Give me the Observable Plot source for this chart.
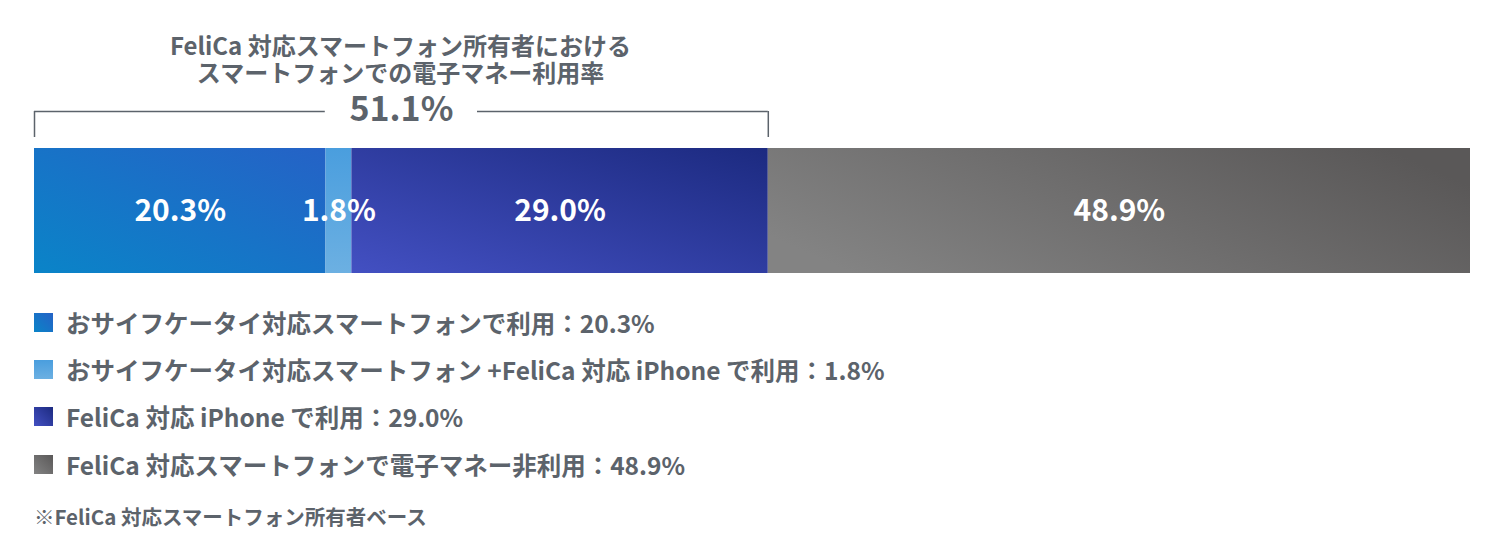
<!DOCTYPE html>
<html>
<head>
<meta charset="utf-8">
<script src="https://cdn.jsdelivr.net/npm/d3@7"></script>
<script src="https://cdn.jsdelivr.net/npm/@observablehq/plot@0.6"></script>
<style>
  html, body { margin: 0; padding: 0; background: #fff; }
  body { font-family: "Noto Sans CJK JP", "Noto Sans", sans-serif; font-weight: 700; color: #5c636b; }
  #wrap { position: relative; width: 1500px; height: 552px; overflow: hidden; }
  .title { position: absolute; left: 0; width: 801px; text-align: center; font-size: 24px; line-height: 27px; height: 27px; white-space: nowrap; }
  #chart { position: absolute; left: 0; top: 60px; }
  .legend-row { position: absolute; left: 34px; height: 30px; display: flex; align-items: center; font-size: 24.5px; white-space: nowrap; }
  .sw { width: 19px; height: 19px; margin-right: 13px; flex: none; }
  .note { position: absolute; left: 34px; font-size: 20.5px; line-height: 26px; white-space: nowrap; }
</style>
</head>
<body>
<div id="wrap">
  <div id="chart"></div>
  <div class="title" style="top:31px">FeliCa 対応スマートフォン所有者における</div>
  <div class="title" style="top:58px">スマートフォンでの電子マネー利用率</div>
  <div id="legend"></div>
  <div class="note" style="top:503px">※FeliCa 対応スマートフォン所有者ベース</div>
</div>
<script>
// ---- data ----
const categories = [
  "おサイフケータイ対応スマートフォンで利用",
  "おサイフケータイ対応スマートフォン +FeliCa 対応 iPhone で利用",
  "FeliCa 対応 iPhone で利用",
  "FeliCa 対応スマートフォンで電子マネー非利用"
];
const values = [20.3, 1.8, 29.0, 48.9];
const usageTotal = 51.1;
const usageLabel = "51.1%";

// ---- styles ----
const gradients = [
  {id: "g0", x1: 0, y1: 1, x2: 1, y2: 0, from: "#0a84c8", to: "#2562c6"},
  {id: "g1", x1: 0, y1: 0, x2: 0, y2: 1, from: "#4a9ede", to: "#6cb0e2"},
  {id: "g2", x1: 0, y1: 1, x2: 1, y2: 0, from: "#4350c2", to: "#1c2a80"},
  {id: "g3", x1: 0, y1: 0.7, x2: 1, y2: 0.3, from: "#838383", to: "#5a5858"}
];
const textColor = "#5c636b";

// stacked table
let acc = 0;
const table = categories.map((c, i) => {
  const x1 = acc; acc += values[i];
  return {category: c, value: values[i], x1, x2: acc, mid: (x1 + acc) / 2,
          fill: `url(#${gradients[i].id})`, label: values[i].toFixed(1) + "%"};
});

const bracketBottom = 1.088, bracketTop = 1.296, gapHalf = 5.3;

const defsMark = () => {
  const defs = d3.create("svg:defs");
  for (const g of gradients) {
    const lg = defs.append("linearGradient").attr("id", g.id)
      .attr("x1", g.x1).attr("y1", g.y1).attr("x2", g.x2).attr("y2", g.y2);
    lg.append("stop").attr("offset", 0).attr("stop-color", g.from);
    lg.append("stop").attr("offset", 1).attr("stop-color", g.to);
  }
  return defs.node();
};

const plot = Plot.plot({
  width: 1500,
  height: 220,
  marginLeft: 34,
  marginRight: 30,
  marginTop: 0,
  marginBottom: 7,
  style: {fontFamily: "'Noto Sans CJK JP', 'Noto Sans', sans-serif", background: "transparent"},
  x: {domain: [0, 100], axis: null},
  y: {domain: [0, 1.704], axis: null},
  color: {type: "identity"},
  marks: [
    defsMark,
    Plot.rect(table, {x1: "x1", x2: "x2", y1: 0, y2: 1, fill: "fill"}),
    Plot.text(table, {x: "mid", y: 0.5, text: "label", fill: "white", fontSize: 30, fontWeight: 700}),
    Plot.ruleX([0, usageTotal], {y1: bracketBottom, y2: bracketTop, stroke: textColor, strokeWidth: 1.5}),
    Plot.ruleY([bracketTop], {x1: 0, x2: usageTotal / 2 - gapHalf, stroke: textColor, strokeWidth: 1.5}),
    Plot.ruleY([bracketTop], {x1: usageTotal / 2 + gapHalf, x2: usageTotal, stroke: textColor, strokeWidth: 1.5}),
    Plot.text([usageLabel], {x: usageTotal / 2, y: bracketTop, text: d => d, fill: textColor, fontSize: 34, fontWeight: 700, dy: -1})
  ]
});
document.getElementById("chart").appendChild(plot);

// legend
const rowCenters = [322, 369, 416, 464];
const legend = document.getElementById("legend");
table.forEach((d, i) => {
  const row = document.createElement("div");
  row.className = "legend-row";
  row.style.top = (rowCenters[i] - 15) + "px";
  const sw = document.createElement("div");
  sw.className = "sw";
  const g = gradients[i];
  sw.style.background = `linear-gradient(${g.x1 === g.x2 ? "180deg" : "45deg"}, ${g.from}, ${g.to})`;
  const t = document.createElement("span");
  t.textContent = `${d.category}：${d.label}`;
  row.appendChild(sw); row.appendChild(t);
  legend.appendChild(row);
});
</script>
</body>
</html>
